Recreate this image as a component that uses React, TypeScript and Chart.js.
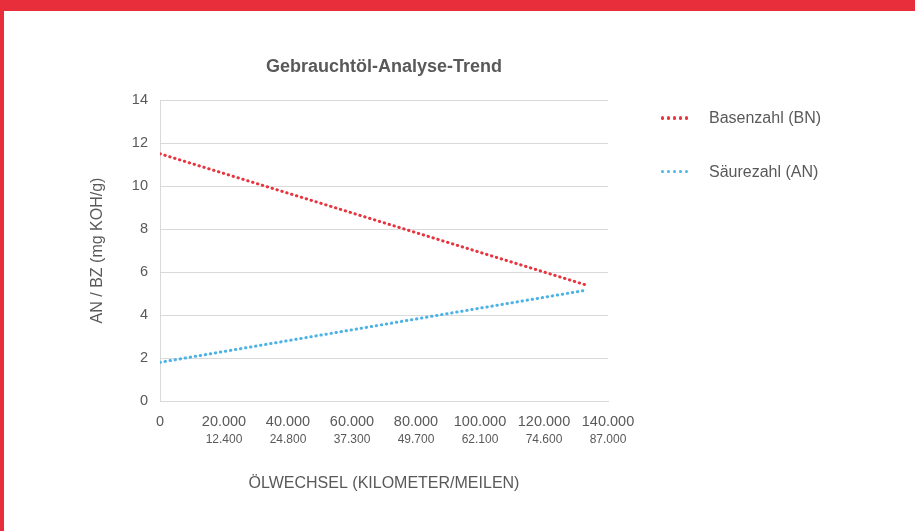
import React, { useEffect, useRef } from "react";
import { Chart, registerables } from "chart.js";

Chart.register(...registerables);

// ---- data ----
const mileageKm = [0, 133000];
const baseNumberBN = [11.5, 5.4];
const acidNumberAN = [1.8, 5.15];
const kmTicks = [0, 20000, 40000, 60000, 80000, 100000, 120000, 140000];
const milesTickLabels = ["", "12.400", "24.800", "37.300", "49.700", "62.100", "74.600", "87.000"];
const seriesNames = ["Basenzahl (BN)", "Säurezahl (AN)"];
const seriesColors = ["#E8343F", "#4DB3E6"];
const chartTitle = "Gebrauchtöl-Analyse-Trend";
const yTitle = "AN / BZ (mg KOH/g)";
const xTitle = "ÖLWECHSEL (KILOMETER/MEILEN)";

const FONT = "'Liberation Sans', Arial, sans-serif";
const TEXT = "#595959";
const GRID = "#D9D9D9";

function fmt(v: number): string {
  return String(Math.round(v)).replace(/\B(?=(\d{3})+(?!\d))/g, ".");
}

export default function App() {
  const ref = useRef<HTMLCanvasElement | null>(null);

  useEffect(() => {
    if (!ref.current) return;
    const chart = new Chart(ref.current, {
      type: "line",
      data: {
        datasets: [
          {
            label: seriesNames[0],
            data: mileageKm.map((x, i) => ({ x, y: baseNumberBN[i] })),
            borderColor: seriesColors[0],
            backgroundColor: seriesColors[0],
            borderWidth: 3,
            borderDash: [0.4, 4.7],
            borderCapStyle: "round",
            pointRadius: 0,
            fill: false,
            xAxisID: "x",
          },
          {
            label: seriesNames[1],
            data: mileageKm.map((x, i) => ({ x, y: acidNumberAN[i] })),
            borderColor: seriesColors[1],
            backgroundColor: seriesColors[1],
            borderWidth: 3,
            borderDash: [0.4, 4.7],
            borderCapStyle: "round",
            pointRadius: 0,
            fill: false,
            xAxisID: "x",
          },
        ],
      },
      options: {
        animation: false,
        responsive: false,
        devicePixelRatio: 1,
        layout: { padding: { top: 0, left: 0, right: 307, bottom: 10 } },
        plugins: {
          legend: { display: false },
          tooltip: { enabled: false },
          title: {
            display: true,
            text: chartTitle,
            fullSize: false,
            color: TEXT,
            font: { family: FONT, size: 18, weight: "bold" },
            padding: { top: 56, bottom: 22.4 },
          },
        },
        scales: {
          x: {
            type: "linear",
            position: "bottom",
            weight: 0,
            min: 0,
            max: 140000,
            afterBuildTicks: (s: any) => {
              s.ticks = kmTicks.map((v) => ({ value: v }));
            },
            afterFit: (s: any) => {
              s.height = 28;
            },
            ticks: {
              padding: 11.8,
              color: TEXT,
              font: { family: FONT, size: 14.5 },
              maxRotation: 0,
              autoSkip: false,
              callback: (v: any) => fmt(Number(v)),
            },
            grid: { display: false, drawTicks: false },
            border: { display: true, color: GRID, width: 1 },
          },
          x2: {
            type: "linear",
            position: "bottom",
            weight: 1,
            min: 0,
            max: 140000,
            afterBuildTicks: (s: any) => {
              s.ticks = kmTicks.map((v) => ({ value: v }));
            },
            afterFit: (s: any) => {
              s.height = 92;
            },
            ticks: {
              padding: 3.8,
              color: TEXT,
              font: { family: FONT, size: 12 },
              maxRotation: 0,
              autoSkip: false,
              callback: (_v: any, i: number) => milesTickLabels[i],
            },
            grid: { display: false, drawTicks: false },
            border: { display: false },
            title: {
              display: true,
              text: xTitle,
              color: TEXT,
              font: { family: FONT, size: 16 },
              padding: { top: 0, bottom: 27.4 },
            },
          },
          y: {
            type: "linear",
            min: 0,
            max: 14,
            afterFit: (s: any) => {
              s.width = 160;
            },
            ticks: {
              stepSize: 2,
              padding: 12,
              color: TEXT,
              font: { family: FONT, size: 14.5 },
            },
            grid: { color: GRID, lineWidth: 1, drawTicks: false },
            border: { display: true, color: GRID, width: 1 },
            title: {
              display: true,
              text: yTitle,
              color: TEXT,
              font: { family: FONT, size: 16 },
              padding: { top: 88.2, bottom: 0 },
            },
          },
        },
      },
    } as any);
    return () => chart.destroy();
  }, []);

  const legendRows = [118, 171.5];
  const legendDots = [0, 1, 2, 3, 4];

  return (
    <div
      style={{
        position: "absolute",
        left: 0,
        top: 0,
        width: 915,
        height: 531,
        background: "#FFFFFF",
        overflow: "hidden",
      }}
    >
      <canvas
        ref={ref}
        width={915}
        height={531}
        style={{ position: "absolute", left: 0, top: 0, width: 915, height: 531 }}
      />
      <div style={{ position: "absolute", left: 0, top: 0, width: 915, height: 11, background: "#E82E3A" }} />
      <div style={{ position: "absolute", left: 0, top: 0, width: 4, height: 531, background: "#E82E3A" }} />
      {seriesNames.map((name, i) => (
        <React.Fragment key={name}>
          {legendDots.map((d) => (
            <div
              key={d}
              style={{
                position: "absolute",
                left: 661 + d * 6,
                top: legendRows[i] - 1.7,
                width: 3.4,
                height: 3.4,
                borderRadius: "50%",
                background: seriesColors[i],
              }}
            />
          ))}
          <div
            style={{
              position: "absolute",
              left: 709,
              top: legendRows[i] - 10,
              height: 20,
              lineHeight: "20px",
              fontSize: 16,
              fontFamily: FONT,
              color: TEXT,
              whiteSpace: "nowrap",
            }}
          >
            {name}
          </div>
        </React.Fragment>
      ))}
    </div>
  );
}
